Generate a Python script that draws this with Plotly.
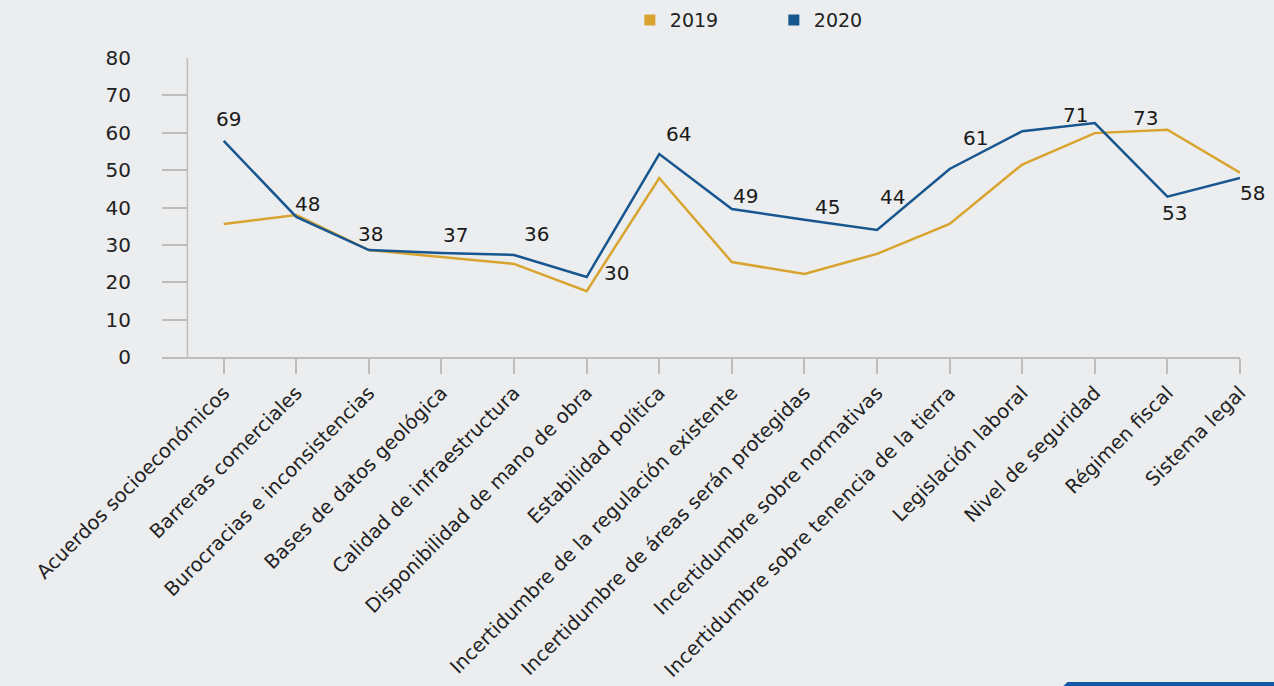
import plotly.graph_objects as go

categorias = [
    "Acuerdos socioeconómicos", "Barreras comerciales", "Burocracias e inconsistencias",
    "Bases de datos geológica", "Calidad de infraestructura", "Disponibilidad de mano de obra",
    "Estabilidad política", "Incertidumbre de la regulación existente",
    "Incertidumbre de áreas serán protegidas", "Incertidumbre sobre normativas",
    "Incertidumbre sobre tenencia de la tierra", "Legislación laboral", "Nivel de seguridad",
    "Régimen fiscal", "Sistema legal",
]
valores_2019 = [35.6, 38.0, 28.6, 26.8, 24.9, 17.6, 47.9, 25.4, 22.2, 27.6, 35.6, 51.5, 59.9, 60.8, 49.3]
valores_2020 = [57.8, 37.5, 28.6, 27.8, 27.3, 21.4, 54.3, 39.6, 36.7, 34.0, 50.3, 60.4, 62.6, 42.9, 47.9]
etiquetas = [69, 48, 38, 37, 36, 30, 64, 49, 45, 44, 61, 71, 73, 53, 58]
y_ticks = [0, 10, 20, 30, 40, 50, 60, 70, 80]

# label offsets (px) relative to the 2020 point
desp_x = [5, 11, 2, 14, 22, 30, 19, 14, 23, 15, 26, 53, 51, 7, 12]
desp_y = [22, 13, 16, 18, 21, 4, 20, 13, 13, 33, 31, 16, 5, -16, -15]

ORO = "#D8A42E"
AZUL = "#17568F"
GRIS = "#BDBDBD"
FONDO = "#ECEDEF"
FUENTE = "DejaVu Sans"

fig = go.Figure()
fig.add_trace(go.Scatter(x=categorias, y=valores_2019, mode="lines", showlegend=False,
                         line=dict(color=ORO, width=2.5)))
fig.add_trace(go.Scatter(x=categorias, y=valores_2020, mode="lines", showlegend=False,
                         line=dict(color=AZUL, width=2.5)))
# legend entries as squares
fig.add_trace(go.Scatter(x=[None], y=[None], mode="markers", name="2019",
                         marker=dict(symbol="square", size=11, color=ORO)))
fig.add_trace(go.Scatter(x=[None], y=[None], mode="markers", name="2020",
                         marker=dict(symbol="square", size=11, color=AZUL)))

for i, c in enumerate(categorias):
    fig.add_annotation(x=c, y=valores_2020[i], text=str(etiquetas[i]), showarrow=False,
                       xshift=desp_x[i], yshift=desp_y[i],
                       font=dict(size=20, color="#1a1a1a", family=FUENTE))

# y axis line sits between the left edge and the first category
fig.add_shape(type="line", xref="x", yref="paper", x0=-0.5, x1=-0.5, y0=0, y1=1,
              line=dict(color=GRIS, width=1.5))

# decorative blue strip bottom right
fig.add_shape(type="path", xref="paper", yref="paper",
              path="M 0.840 -1.087 L 1.034 -1.087 L 1.034 -1.104 L 0.835 -1.104 Z",
              fillcolor="#1158A6", line=dict(width=0))

fig.update_xaxes(type="category", range=[-0.85, 14], showgrid=False,
                 showline=True, linecolor=GRIS, linewidth=1.5,
                 ticks="outside", ticklen=15, tickcolor=GRIS, tickwidth=1.5,
                 tickangle=-45, tickfont=dict(size=19.5, color="#222", family=FUENTE))
fig.update_yaxes(range=[0, 80], tickvals=y_ticks, showgrid=False, zeroline=False,
                 showline=False, ticks="inside", ticklen=26, tickcolor=GRIS, tickwidth=1.5,
                 ticklabelstandoff=30, tickfont=dict(size=20, color="#222", family=FUENTE))

fig.update_layout(
    width=1274, height=686,
    paper_bgcolor=FONDO, plot_bgcolor=FONDO,
    margin=dict(l=162, r=34, t=58, b=329, autoexpand=False),
    font=dict(family=FUENTE, color="#222"),
    legend=dict(orientation="h", x=0.434, y=1.127, xanchor="left", yanchor="middle",
                entrywidth=99, itemwidth=30, font=dict(size=19, family=FUENTE),
                bgcolor="rgba(0,0,0,0)"),
)

fig.write_html("out.html", config={"displayModeBar": False},
               post_script="document.body.style.margin='0';")
